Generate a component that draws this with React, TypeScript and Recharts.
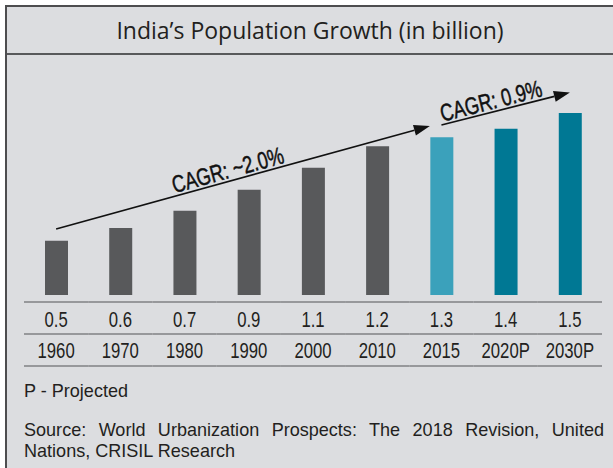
import React from 'react';
import { BarChart, Bar, XAxis, YAxis, Cell, ReferenceLine } from 'recharts';

// population in billion (bar heights) and the rounded labels shown in the table row
const YEARS = ['1960', '1970', '1980', '1990', '2000', '2010', '2015', '2020P', '2030P'];
const POPULATION = [0.45, 0.555, 0.699, 0.873, 1.057, 1.234, 1.31, 1.38, 1.51];
const VALUE_LABELS = ['0.5', '0.6', '0.7', '0.9', '1.1', '1.2', '1.3', '1.4', '1.5'];
const CAGR_TEXT = ['CAGR: ~2.0%', 'CAGR: 0.9%'];

const W = 613;
const H = 468;
const M = { top: 54, right: 11, bottom: 0, left: 24 };
const AXIS_H = H - 295;
const BAND = (W - M.left - M.right) / YEARS.length;

// no narrow font installed, so Liberation Sans gets squeezed horizontally
const SANS = "'Liberation Sans', Arial, sans-serif";
const INK = '#231f20';

const data = YEARS.map((year, i) => ({ year, value: POPULATION[i], label: VALUE_LABELS[i] }));

const barColor = (year: string) =>
    year === '2015' ? '#3ba1bb' : year.endsWith('P') ? '#007894' : '#58595b';

const NarrowText = ({ x, y, size, sx, children }: any) => (
    <text
        transform={`translate(${x},${y}) scale(${sx},1)`}
        textAnchor="middle"
        fontFamily={SANS}
        fontSize={size}
        fill={INK}
    >
        {children}
    </text>
);

const TableTick = ({ x, y, payload, index }: any) => {
    const half = BAND / 2;
    const row = data[payload?.index ?? index];
    const rule = (dy: number) => (
        <line x1={x - half} x2={x + half} y1={y + dy} y2={y + dy} stroke="#808184" strokeWidth={1.5} />
    );
    return (
        <g>
            {rule(7)}
            {rule(39)}
            {rule(71)}
            <NarrowText x={x} y={y + 32} size={22} sx={0.76}>{row.label}</NarrowText>
            <NarrowText x={x} y={y + 63} size={22} sx={0.76}>{payload.value}</NarrowText>
        </g>
    );
};

// arrow with its label laid along the line
const arrowShape = (text: string, trimEnd: number, t: number) => (props: any) => {
    const { x1, y1, x2, y2 } = props;
    const dx = x2 - x1;
    const dy = y2 - y1;
    const len = Math.hypot(dx, dy);
    const ux = dx / len;
    const uy = dy / len;
    const tipX = x2 - ux * trimEnd;
    const tipY = y2 - uy * trimEnd;
    const head = 16;
    const hw = 5.5;
    const bx = tipX - ux * head;
    const by = tipY - uy * head;
    const px = -uy;
    const py = ux;
    const angle = (Math.atan2(dy, dx) * 180) / Math.PI;
    const lx = x1 + dx * t;
    const ly = y1 + dy * t;
    return (
        <g>
            <line x1={x1} y1={y1} x2={bx} y2={by} stroke="#111" strokeWidth={1.6} />
            <polygon
                points={`${tipX},${tipY} ${bx + px * hw},${by + py * hw} ${bx - px * hw},${by - py * hw}`}
                fill="#111"
            />
            <text
                transform={`translate(${lx},${ly}) rotate(${angle}) translate(0,-3) scale(0.76,1)`}
                textAnchor="middle"
                fontFamily={SANS}
                fontSize={24}
                fill="#111"
                stroke="#111"
                strokeWidth={0.5}
            >
                {text}
            </text>
        </g>
    );
};

export default function App() {
    return (
        <div style={{ position: 'absolute', top: 0, left: 0, width: W, height: H, background: '#fff', overflow: 'hidden' }}>
            <div
                style={{
                    position: 'absolute', top: 5, left: 5, width: W - 5, height: H - 5,
                    background: '#dcdde0', borderTop: '2px solid #4d4d4f', borderLeft: '2px solid #4d4d4f',
                    boxSizing: 'border-box',
                }}
            />
            <div
                style={{
                    position: 'absolute', top: 7, left: 7, width: W - 7, height: 46, lineHeight: '46px',
                    textAlign: 'center', fontFamily: "'Open Sans', sans-serif", fontSize: 23, color: INK,
                    whiteSpace: 'nowrap',
                }}
            >
                India’s Population Growth (in billion)
            </div>
            <div style={{ position: 'absolute', top: 53, left: 7, width: W - 7, height: 2, background: '#58595b' }} />

            <div style={{ position: 'absolute', top: 0, left: 0 }}>
                <BarChart width={W} height={H} data={data} margin={M}>
                    <XAxis
                        dataKey="year"
                        height={AXIS_H}
                        axisLine={false}
                        tickLine={false}
                        tickSize={0}
                        tickMargin={0}
                        interval={0}
                        tick={<TableTick />}
                    />
                    <YAxis hide domain={[0, 2]} />
                    <Bar dataKey="value" barSize={23} isAnimationActive={false}>
                        {data.map((d) => (
                            <Cell key={d.year} fill={barColor(d.year)} />
                        ))}
                    </Bar>
                    <ReferenceLine
                        segment={[{ x: '1960', y: 0.548 }, { x: '2015', y: 1.429 }]}
                        ifOverflow="visible"
                        shape={arrowShape(CAGR_TEXT[0], 12, 0.453)}
                    />
                    <ReferenceLine
                        segment={[{ x: '2015', y: 1.411 }, { x: '2030P', y: 1.681 }]}
                        ifOverflow="visible"
                        shape={arrowShape(CAGR_TEXT[1], 0, 0.407)}
                    />
                </BarChart>
            </div>

            <div
                style={{
                    position: 'absolute', top: 380, left: 24, lineHeight: '21px',
                    fontFamily: SANS, fontSize: 19, color: INK, whiteSpace: 'nowrap',
                    transform: 'scaleX(0.95)', transformOrigin: '0 0',
                }}
            >
                P - Projected
            </div>
            <div
                style={{
                    position: 'absolute', top: 419, left: 24, width: 580 / 0.95, lineHeight: '21px',
                    fontFamily: SANS, fontSize: 19, color: INK,
                    transform: 'scaleX(0.95)', transformOrigin: '0 0',
                }}
            >
                <div style={{ textAlign: 'justify', textAlignLast: 'justify', whiteSpace: 'nowrap' }}>
                    Source: World Urbanization Prospects: The 2018 Revision, United
                </div>
                <div>Nations, CRISIL Research</div>
            </div>
        </div>
    );
}
